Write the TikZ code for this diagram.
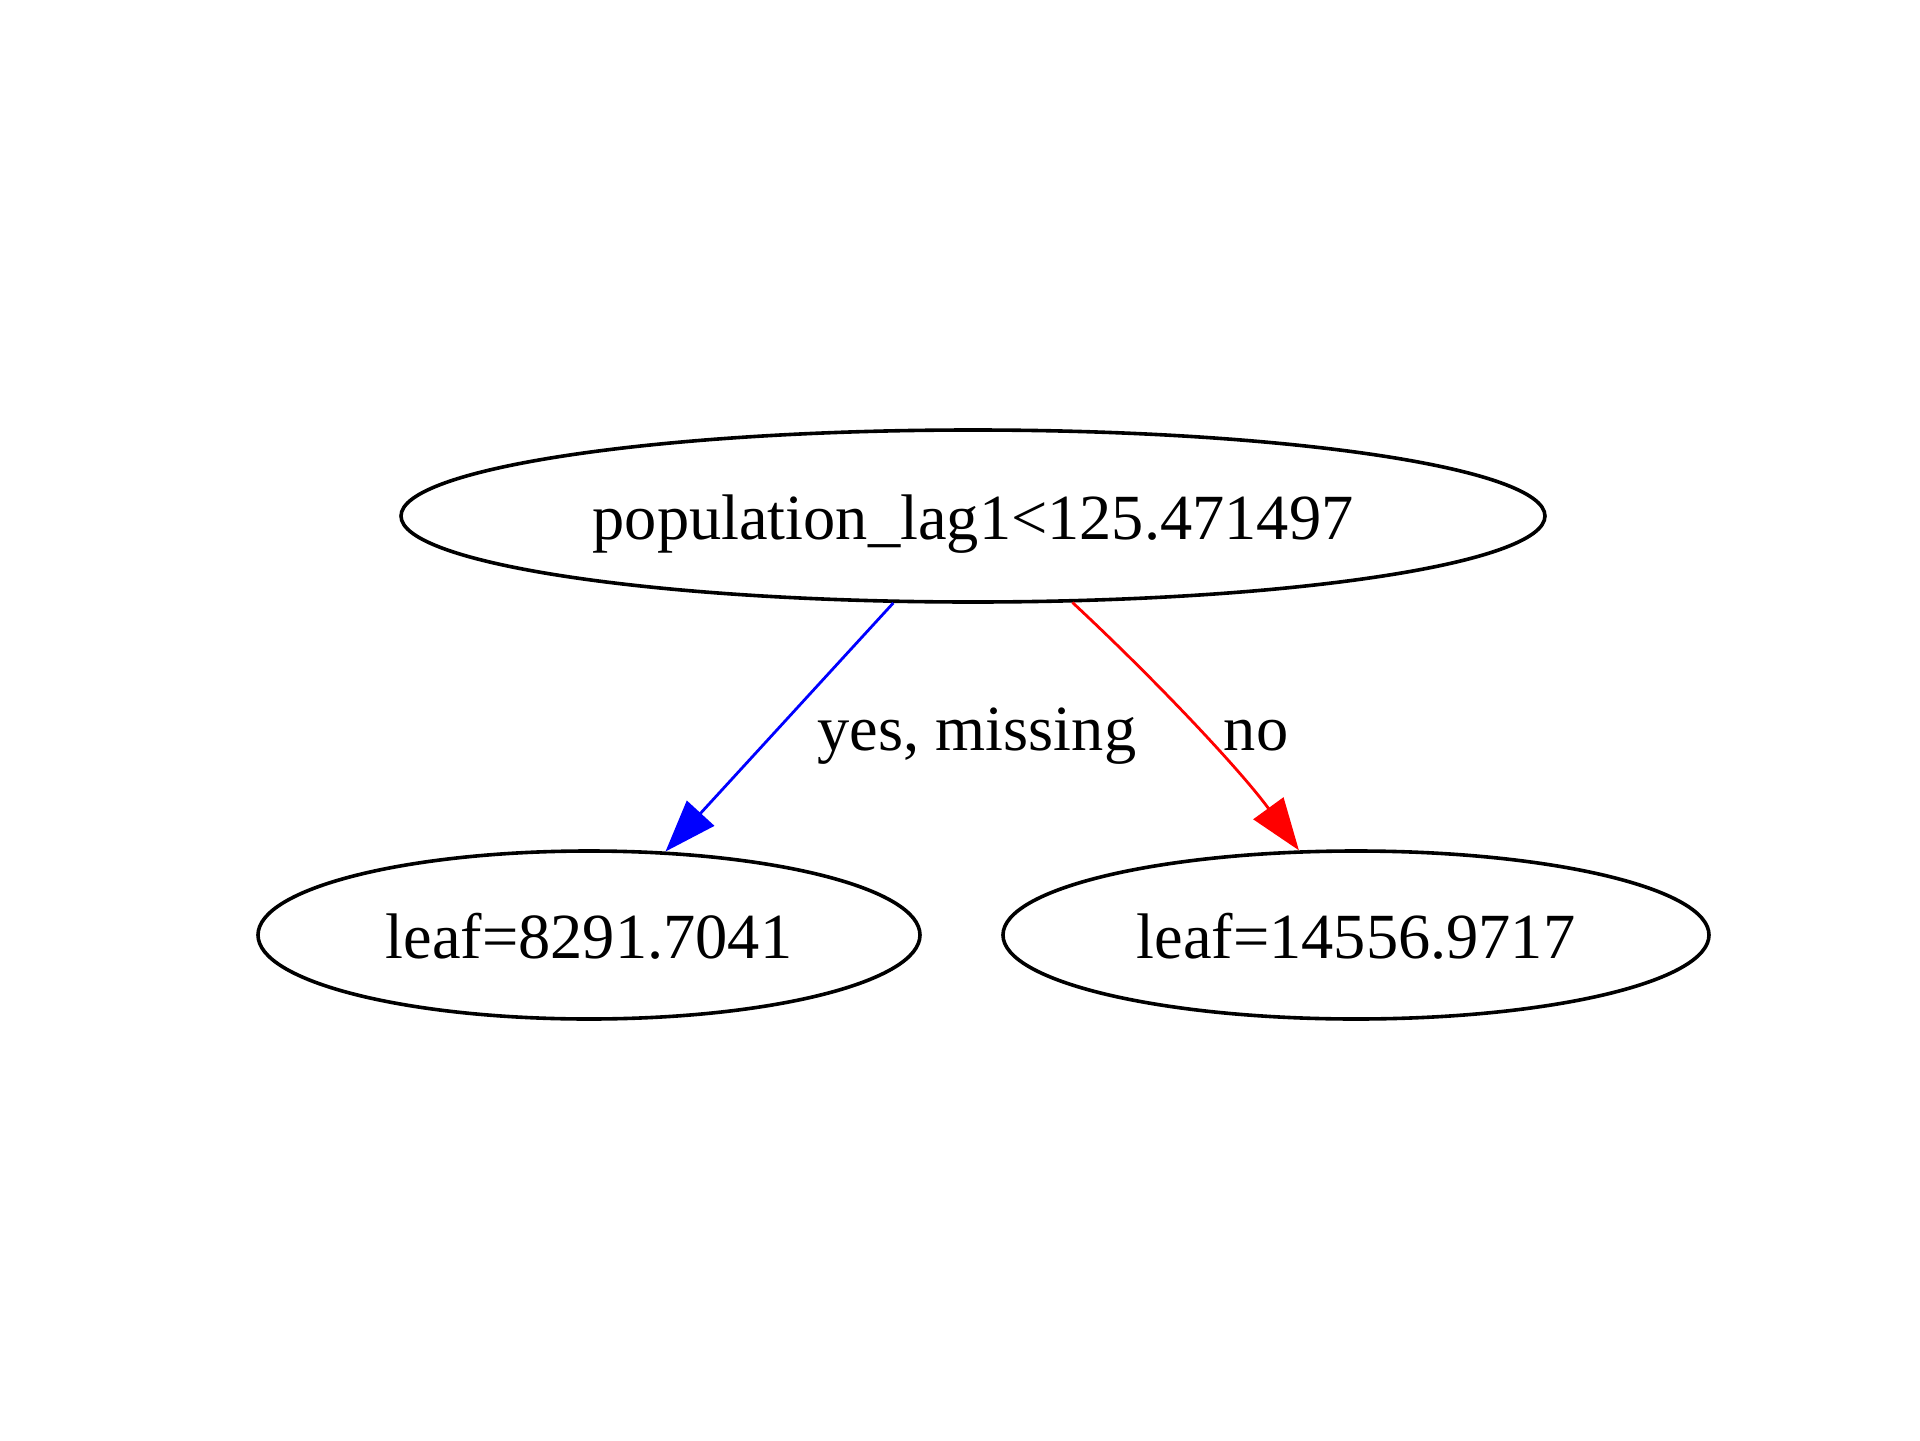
\documentclass[tikz,border=0pt]{standalone}
\usepackage{fontspec}
\setmainfont{Liberation Serif}
\usetikzlibrary{shapes.geometric,arrows.meta}
\tikzset{
  treenode/.style={draw=black, line width=0.9pt, ellipse, inner sep=0pt,
    font=\fontsize{16.1}{19}\selectfont, text height=14pt, text depth=2.5pt},
  edgelabel/.style={font=\fontsize{16.1}{19}\selectfont, anchor=base, inner sep=0pt},
  yesedge/.style={draw={rgb,255:red,0;green,0;blue,255}, line width=0.7pt,
    -{Triangle[length=13pt,width=9.2pt]}},
  noedge/.style={draw={rgb,255:red,255;green,0;blue,0}, line width=0.7pt,
    -{Triangle[length=13pt,width=9.2pt]}}
}
\begin{document}
\begin{tikzpicture}[x=1pt,y=1pt]
\useasboundingbox[fill=white] (0,0) rectangle (480,360);
\node[treenode, minimum width=286pt, minimum height=43pt] (top) at (243.25,231) {population\_lag1<125.471497};
\node[treenode, minimum width=165.5pt, minimum height=42pt] (leafa) at (147.25,126.25) {leaf=8291.7041};
\node[treenode, minimum width=176.5pt, minimum height=42pt] (leafb) at (339,126.25) {leaf=14556.9717};
\draw[yesedge] (top) -- (leafa);
\draw[noedge] (top.-41) .. controls +(-43:30pt) and +(126:24pt) .. (leafb.124);
\node[edgelabel] (lyes) at (244.25,172.5) {yes, missing};
\node[edgelabel] (lno) at (314,172.5) {no};
\end{tikzpicture}
\end{document}
